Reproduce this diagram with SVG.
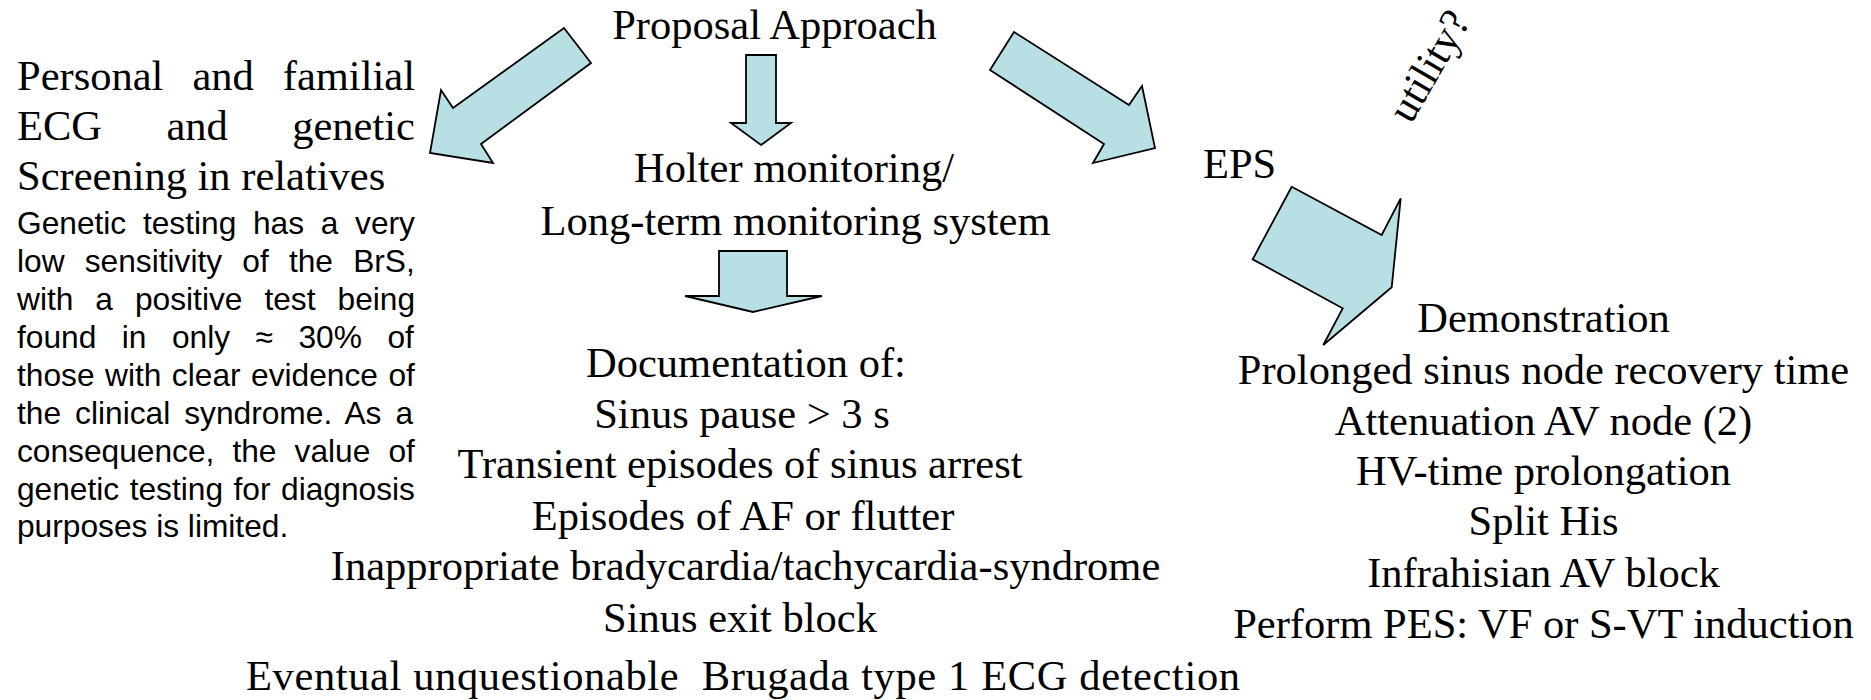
<svg xmlns="http://www.w3.org/2000/svg" width="1871" height="700" viewBox="0 0 1871 700">
  <style>
    .serif { font-family: "Liberation Serif", "Times New Roman", serif; font-size: 42.5px; fill: #000; }
    .sans { font-family: "Liberation Sans", Arial, sans-serif; font-size: 31.7px; fill: #000; }
    .mid { text-anchor: middle; }
    .arrow { fill: #B8DFE3; stroke: #000; stroke-width: 1.8; stroke-linejoin: miter; }
  </style>
  <rect width="1871" height="700" fill="#fff"/>

  <!-- block arrows -->
  <g id="connectors">
    <polygon class="arrow" points="564,28 591,63 481,144 493,163 430,153 441,90 453,108"/>
    <polygon class="arrow" points="746,55 776,55 776,123 791,123 761,145 731,123 746,123"/>
    <polygon class="arrow" points="719,251 787,251 787,296 822,296 753,312 685,296 719,296"/>
    <polygon class="arrow" points="1014,32 1129,105 1142,86 1155,148 1093,163 1104,144 990,70"/>
    <polygon class="arrow" points="1291.7,186.7 1381.7,235 1400.7,198.3 1391.7,287.3 1323.3,345 1342.7,308.3 1252.7,259.3"/>
  </g>

  <g id="node-proposal">
    <text class="serif mid" x="774.5" y="39">Proposal Approach</text>
  </g>

  <g id="node-screening">
    <text class="serif" x="17" y="90" word-spacing="18.4">Personal and familial</text>
    <text class="serif" x="17" y="140" word-spacing="53.8">ECG and genetic</text>
    <text class="serif" x="17" y="190">Screening in relatives</text>
  </g>

  <g id="node-genetic-note">
    <text class="sans" x="17" y="234" word-spacing="7.9">Genetic testing has a very</text>
    <text class="sans" x="17" y="272" word-spacing="11.4">low sensitivity of the BrS,</text>
    <text class="sans" x="17" y="310" word-spacing="13.2">with a positive test being</text>
    <text class="sans" x="17" y="348" word-spacing="16.7">found in only ≈ 30% of</text>
    <text class="sans" x="17" y="386" word-spacing="1.7">those with clear evidence of</text>
    <text class="sans" x="17" y="424" word-spacing="5.25">the clinical syndrome. As a</text>
    <text class="sans" x="17" y="462" word-spacing="9.3">consequence, the value of</text>
    <text class="sans" x="17" y="500" word-spacing="1.7">genetic testing for diagnosis</text>
    <text class="sans" x="17" y="537">purposes is limited.</text>
  </g>

  <g id="node-holter">
    <text class="serif mid" x="794" y="182">Holter monitoring/</text>
    <text class="serif mid" x="795.5" y="235">Long-term monitoring system</text>
  </g>

  <g id="node-documentation">
    <text class="serif mid" x="746" y="377">Documentation of:</text>
    <text class="serif mid" x="742" y="428">Sinus pause &gt; 3 s</text>
    <text class="serif mid" x="740" y="478">Transient episodes of sinus arrest</text>
    <text class="serif mid" x="743" y="530">Episodes of AF or flutter</text>
    <text class="serif mid" x="745.5" y="580">Inappropriate bradycardia/tachycardia-syndrome</text>
    <text class="serif mid" x="740" y="632">Sinus exit block</text>
    <text class="serif mid" x="743" y="690" textLength="994" lengthAdjust="spacing" xml:space="preserve">Eventual unquestionable  Brugada type 1 ECG detection</text>
  </g>

  <g id="node-eps">
    <text class="serif" x="1203" y="178">EPS</text>
  </g>

  <g id="label-utility">
    <text class="serif" transform="translate(1411,125) rotate(-60)">utility?</text>
  </g>

  <g id="node-demonstration">
    <text class="serif mid" x="1543.5" y="332">Demonstration</text>
    <text class="serif mid" x="1543.5" y="384">Prolonged sinus node recovery time</text>
    <text class="serif mid" x="1543.5" y="435">Attenuation AV node (2)</text>
    <text class="serif mid" x="1543.5" y="485">HV-time prolongation</text>
    <text class="serif mid" x="1543.5" y="535">Split His</text>
    <text class="serif mid" x="1543.5" y="587">Infrahisian AV block</text>
    <text class="serif mid" x="1543.5" y="638">Perform PES: VF or S-VT induction</text>
  </g>
</svg>
